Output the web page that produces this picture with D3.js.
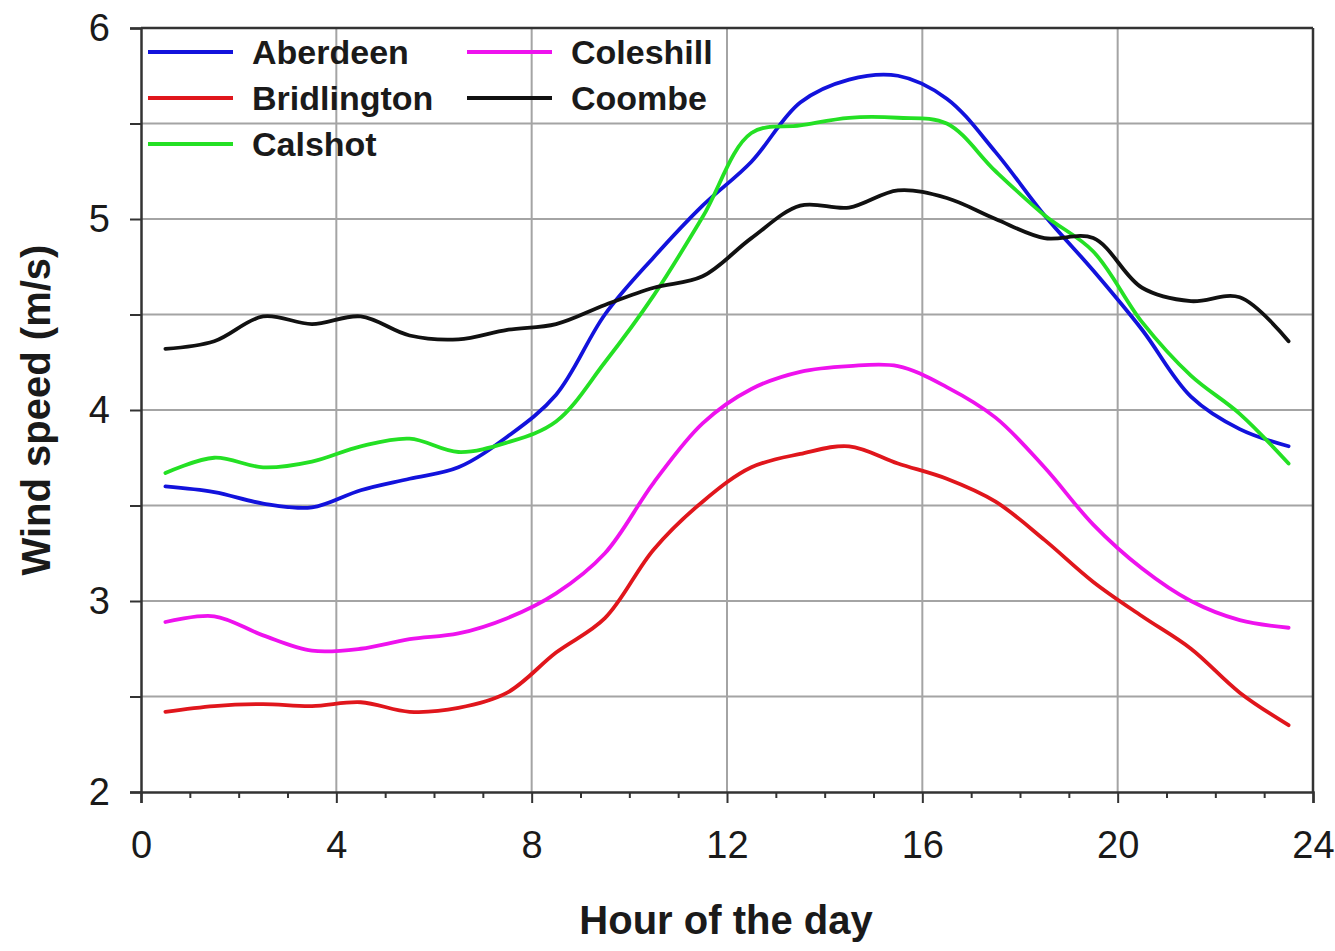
<!DOCTYPE html>
<html>
<head>
<meta charset="utf-8">
<script src="https://cdn.jsdelivr.net/npm/d3@7"></script>
<style>
  html, body { margin: 0; padding: 0; background: #fff; }
  svg { display: block; font-family: "Liberation Sans", Arial, sans-serif; }
</style>
</head>
<body>
<svg id="chart" width="1335" height="951"></svg>
<script>
// Mean wind speed by hour of day (hourly means plotted at half-hours)
const hours = [0.5, 1.5, 2.5, 3.5, 4.5, 5.5, 6.5, 7.5, 8.5, 9.5, 10.5, 11.5,
               12.5, 13.5, 14.5, 15.5, 16.5, 17.5, 18.5, 19.5, 20.5, 21.5, 22.5, 23.5];

const aberdeen    = [3.60, 3.57, 3.51, 3.49, 3.58, 3.64, 3.70, 3.86, 4.08, 4.50, 4.80, 5.07,
                     5.30, 5.61, 5.73, 5.75, 5.63, 5.35, 5.02, 4.73, 4.42, 4.07, 3.90, 3.81];
const bridlington = [2.42, 2.45, 2.46, 2.45, 2.47, 2.42, 2.44, 2.52, 2.73, 2.91, 3.27, 3.52,
                     3.70, 3.77, 3.81, 3.72, 3.64, 3.52, 3.32, 3.10, 2.92, 2.75, 2.52, 2.35];
const calshot     = [3.67, 3.75, 3.70, 3.73, 3.81, 3.85, 3.78, 3.83, 3.94, 4.25, 4.60, 5.01,
                     5.45, 5.49, 5.53, 5.53, 5.50, 5.25, 5.02, 4.83, 4.46, 4.18, 3.98, 3.72];
const coleshill   = [2.89, 2.92, 2.82, 2.74, 2.75, 2.80, 2.83, 2.91, 3.04, 3.25, 3.62, 3.93,
                     4.11, 4.20, 4.23, 4.23, 4.12, 3.96, 3.70, 3.40, 3.17, 3.00, 2.90, 2.86];
const coombe      = [4.32, 4.36, 4.49, 4.45, 4.49, 4.39, 4.37, 4.42, 4.45, 4.55, 4.64, 4.70,
                     4.90, 5.07, 5.06, 5.15, 5.11, 5.00, 4.90, 4.90, 4.64, 4.57, 4.59, 4.36];

const stationNames  = ["Aberdeen", "Bridlington", "Calshot", "Coleshill", "Coombe"];
const stationValues = [aberdeen, bridlington, calshot, coleshill, coombe];
const stationColors = ["#1212dc", "#e0161c", "#24e024", "#ee12ee", "#111111"];

const xTicks = [0, 4, 8, 12, 16, 20, 24];
const xMinorTicks = [1, 2, 3, 5, 6, 7, 9, 10, 11, 13, 14, 15, 17, 18, 19, 21, 22, 23];
const yTicks = [2, 2.5, 3, 3.5, 4, 4.5, 5, 5.5, 6];
const yLabels = [2, 3, 4, 5, 6];

const xTitle = "Hour of the day";
const yTitle = "Wind speed (m/s)";

const plot = { left: 141, right: 1313, top: 28, bottom: 792 };

const svg = d3.select("#chart");
const x = d3.scaleLinear().domain([0, 24]).range([plot.left, plot.right]);
const y = d3.scaleLinear().domain([2, 6]).range([plot.bottom, plot.top]);

const gridColor = "#a4a4a4";
const axisColor = "#333";

// grid
const grid = svg.append("g");
grid.selectAll("line.v").data(xTicks.filter(d => d > 0 && d < 24)).join("line")
  .attr("x1", d => x(d)).attr("x2", d => x(d))
  .attr("y1", plot.top).attr("y2", plot.bottom)
  .attr("stroke", gridColor).attr("stroke-width", 2);
grid.selectAll("line.h").data(yTicks.filter(d => d > 2 && d < 6)).join("line")
  .attr("x1", plot.left).attr("x2", plot.right)
  .attr("y1", d => y(d)).attr("y2", d => y(d))
  .attr("stroke", gridColor).attr("stroke-width", 2);

// frame: top and right edges
svg.append("line").attr("x1", plot.left).attr("x2", plot.right)
  .attr("y1", plot.top).attr("y2", plot.top)
  .attr("stroke", axisColor).attr("stroke-width", 2.5);
svg.append("line").attr("x1", plot.right).attr("x2", plot.right)
  .attr("y1", plot.top).attr("y2", plot.bottom)
  .attr("stroke", axisColor).attr("stroke-width", 2.5);

// y axis
const yAxis = svg.append("g")
  .attr("transform", `translate(${plot.left},0)`)
  .call(d3.axisLeft(y).tickValues(yTicks).tickSize(11).tickPadding(20)
    .tickFormat(d => yLabels.includes(d) ? d3.format("d")(d) : ""));
yAxis.select(".domain").attr("stroke", axisColor).attr("stroke-width", 2.5);
yAxis.selectAll(".tick line").attr("stroke", axisColor).attr("stroke-width", 2);
yAxis.selectAll(".tick text").attr("font-size", 38).attr("fill", "#1a1a1a")
  .attr("font-family", "Liberation Sans, Arial, sans-serif");

// x axis, minor ticks first
const xMinor = svg.append("g")
  .attr("transform", `translate(0,${plot.bottom})`)
  .call(d3.axisBottom(x).tickValues(xMinorTicks).tickSize(6).tickFormat(""));
xMinor.select(".domain").remove();
xMinor.selectAll(".tick line").attr("stroke", axisColor).attr("stroke-width", 2);

const xAxis = svg.append("g")
  .attr("transform", `translate(0,${plot.bottom})`)
  .call(d3.axisBottom(x).tickValues(xTicks).tickSize(11).tickPadding(28)
    .tickFormat(d3.format("d")));
xAxis.select(".domain").attr("stroke", axisColor).attr("stroke-width", 2.5);
xAxis.selectAll(".tick line").attr("stroke", axisColor).attr("stroke-width", 2);
xAxis.selectAll(".tick text").attr("font-size", 38).attr("fill", "#1a1a1a")
  .attr("font-family", "Liberation Sans, Arial, sans-serif");

// axis titles
svg.append("text")
  .attr("x", 726).attr("y", 934)
  .attr("text-anchor", "middle")
  .attr("font-size", 40).attr("font-weight", "bold").attr("fill", "#1a1a1a")
  .text(xTitle);
svg.append("text")
  .attr("transform", "translate(50,410) rotate(-90)")
  .attr("text-anchor", "middle")
  .attr("font-size", 40).attr("font-weight", "bold").attr("fill", "#1a1a1a")
  .text(yTitle);

// series lines
const line = d3.line()
  .x((d, i) => x(hours[i]))
  .y(d => y(d))
  .curve(d3.curveCatmullRom.alpha(0.5));

svg.append("g").selectAll("path").data(stationValues).join("path")
  .attr("d", d => line(d))
  .attr("fill", "none")
  .attr("stroke", (d, i) => stationColors[i])
  .attr("stroke-width", 3.8)
  .attr("stroke-linejoin", "round")
  .attr("stroke-linecap", "round");

// legend: two columns
const legendSlots = [
  { col: 0, row: 0 }, { col: 0, row: 1 }, { col: 0, row: 2 },
  { col: 1, row: 0 }, { col: 1, row: 1 }
];
const colX = [148, 467];
const rowY = [52, 98, 144];
const legend = svg.append("g");
stationNames.forEach((name, i) => {
  const s = legendSlots[i];
  const lx = colX[s.col], ly = rowY[s.row];
  legend.append("line")
    .attr("x1", lx).attr("x2", lx + 85)
    .attr("y1", ly).attr("y2", ly)
    .attr("stroke", stationColors[i]).attr("stroke-width", 3.8);
  legend.append("text")
    .attr("x", lx + 104).attr("y", ly + 12)
    .attr("font-size", 34).attr("font-weight", "bold").attr("fill", "#1a1a1a")
    .text(name);
});
</script>
</body>
</html>
